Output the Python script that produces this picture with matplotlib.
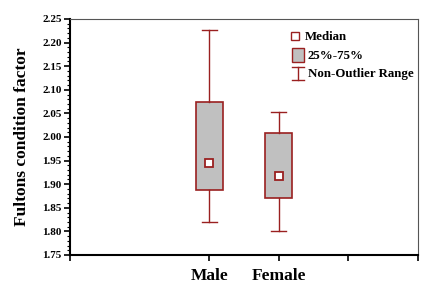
import matplotlib
matplotlib.use("Agg")
import matplotlib.pyplot as plt
from matplotlib.ticker import MultipleLocator, FormatStrFormatter
from matplotlib.patches import Rectangle

categories = ["Male", "Female"]
positions = [2, 3]
whisker_low = [1.820, 1.800]
q25 = [1.888, 1.871]
median = [1.945, 1.917]
q75 = [2.074, 2.008]
whisker_high = [2.227, 2.053]

red = "#9a2020"
serif = ["Liberation Serif", "DejaVu Serif"]
plt.rcParams["font.family"] = serif
plt.rcParams["font.weight"] = "bold"

fig = plt.figure(figsize=(4.25, 2.9), dpi=100)
ax = fig.add_axes([70/425, 35/290, 348/425, 236/290])

stats = []
for i, c in enumerate(categories):
    stats.append(dict(label=c, whislo=whisker_low[i], q1=q25[i], med=median[i],
                      q3=q75[i], whishi=whisker_high[i], fliers=[]))
bp = ax.bxp(stats, positions=positions, widths=0.39, patch_artist=True,
            showfliers=False,
            boxprops=dict(facecolor="#c0c0c0", edgecolor=red, linewidth=1.2),
            whiskerprops=dict(color=red, linewidth=1.0),
            capprops=dict(color=red, linewidth=1.0),
            medianprops=dict(linewidth=0, alpha=0),
            capwidths=0.22)
ax.plot(positions, median, linestyle="none", marker="s", markersize=5.5,
        markerfacecolor="white", markeredgecolor=red, markeredgewidth=1.3, zorder=5)

ax.set_xlim(0, 5)
ax.set_ylim(1.75, 2.25)
ax.set_xticks([0, 2, 3, 4, 5])
ax.set_xticklabels(["", "Male", "Female", "", ""], fontsize=12.5, fontweight="bold")
ax.yaxis.set_major_locator(MultipleLocator(0.05))
ax.yaxis.set_minor_locator(MultipleLocator(0.01))
ax.yaxis.set_major_formatter(FormatStrFormatter("%.2f"))
for lab in ax.get_yticklabels():
    lab.set_fontsize(8)
    lab.set_fontweight("bold")
ax.tick_params(axis="y", which="major", length=4, width=1.2, direction="out", pad=2)
ax.tick_params(axis="y", which="minor", length=2, width=0.8, direction="out")
ax.tick_params(axis="x", which="major", length=4, width=1.2, direction="out", pad=5)
ax.set_ylabel("Fultons condition factor", fontsize=12.5, fontweight="bold", labelpad=9)

for s in ["left", "bottom"]:
    ax.spines[s].set_linewidth(1.5)
    ax.spines[s].set_color("black")
for s in ["top", "right"]:
    ax.spines[s].set_linewidth(0.8)
    ax.spines[s].set_color("#555555")

# legend (drawn manually in axes coordinates)
def ax_xy(px, py):
    return ((px - 70) / 348, (255 - py) / 236)

tr = ax.transAxes
mx, my = ax_xy(295, 36)
ax.plot([mx], [my], marker="s", markersize=6, markerfacecolor="white",
        markeredgecolor=red, markeredgewidth=1.0, transform=tr, clip_on=False)
ax.text(*ax_xy(305, 37), "Median", transform=tr, fontsize=9.3, va="center", ha="left")
bx0, by0 = ax_xy(292, 62)
bx1, by1 = ax_xy(304, 48)
ax.add_patch(Rectangle((bx0, by0), bx1 - bx0, by1 - by0, transform=tr,
                       facecolor="#c0c0c0", edgecolor=red, linewidth=1.0, clip_on=False))
ax.text(*ax_xy(307, 56), "25%-75%", transform=tr, fontsize=9.3, va="center", ha="left")
wx, wy0 = ax_xy(298, 80)
_, wy1 = ax_xy(298, 67)
cw = 6 / 348
ax.plot([wx, wx], [wy0, wy1], color=red, lw=1.0, transform=tr, clip_on=False)
ax.plot([wx - cw, wx + cw], [wy0, wy0], color=red, lw=1.0, transform=tr, clip_on=False)
ax.plot([wx - cw, wx + cw], [wy1, wy1], color=red, lw=1.0, transform=tr, clip_on=False)
ax.text(*ax_xy(308, 74), "Non-Outlier Range", transform=tr, fontsize=9.3, va="center", ha="left")

fig.savefig("out.png", dpi=100)
